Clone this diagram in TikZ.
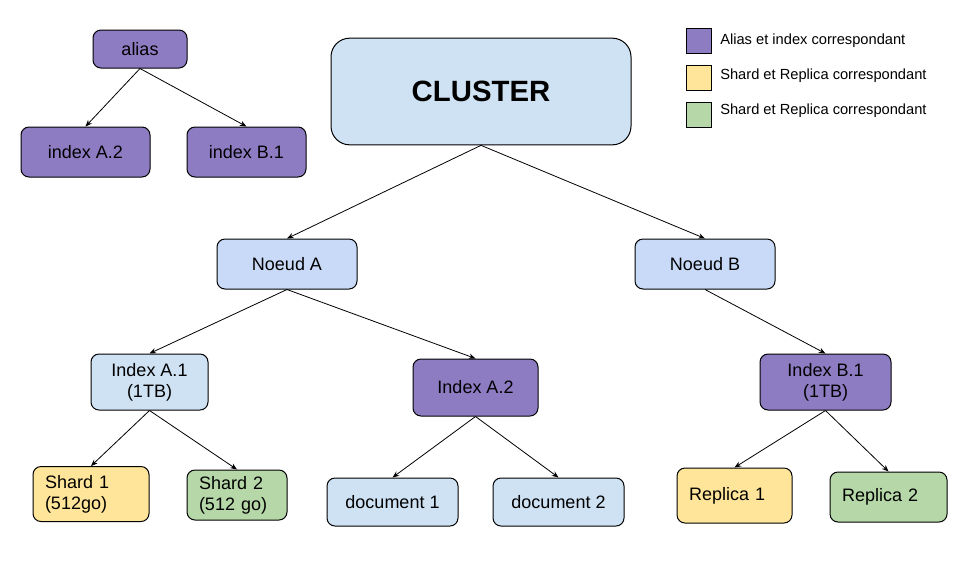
\documentclass[tikz,border=0pt]{standalone}
\usepackage{fontspec}
\setmainfont{Liberation Sans}
\usepackage{tikz}
\usetikzlibrary{arrows.meta, positioning}
\definecolor{aliaspurple}{RGB}{142, 124, 195}
\definecolor{clusterblue}{RGB}{207, 226, 243}
\definecolor{noeudblue}{RGB}{201, 218, 248}
\definecolor{shardyellow}{RGB}{255, 229, 153}
\definecolor{replicagreen}{RGB}{182, 215, 168}

\begin{document}
\begin{tikzpicture}[x=0.75pt, y=-0.75pt,
  box/.style={draw=black, line width=0.75pt, rounded corners=6pt, align=center, inner sep=0pt, font=\fontsize{13.5}{16}\selectfont},
  purplebox/.style={box, fill=aliaspurple},
  bluebox/.style={box, fill=clusterblue},
  yellowbox/.style={box, fill=shardyellow},
  greenbox/.style={box, fill=replicagreen},
  leftbox/.style={align=left, inner xsep=9pt, text width=#1},
  legendsq/.style={draw=black, line width=0.75pt, minimum size=18.75pt, inner sep=0pt},
  legendtxt/.style={anchor=west, inner sep=0pt, font=\fontsize{11}{13}\selectfont},
  link/.style={-{Stealth[length=5pt, width=4pt]}, line width=0.6pt}]
  \useasboundingbox (0,0) rectangle (962,569);

  % Alias
  \node[purplebox, minimum width=70.5pt, minimum height=28.5pt] (alias) at (140, 49) {alias};
  \node[purplebox, minimum width=96.75pt, minimum height=37.5pt] (aliasA2) at (85.5, 152) {index A.2};
  \node[purplebox, minimum width=89.25pt, minimum height=37.5pt] (aliasB1) at (246.5, 152) {index B.1};

  % Cluster
  \node[bluebox, rounded corners=14pt, minimum width=225pt, minimum height=80pt, font=\fontsize{22}{26}\selectfont\bfseries] (cluster) at (481, 91.5) {CLUSTER};

  % Noeuds
  \node[box, fill=noeudblue, minimum width=105pt, minimum height=37.5pt] (noeudA) at (287, 264) {Noeud A};
  \node[box, fill=noeudblue, minimum width=105pt, minimum height=37.5pt] (noeudB) at (705, 264) {Noeud B};

  % Index
  \node[bluebox, minimum width=87.75pt, minimum height=42pt] (indexA1) at (149.5, 382) {Index A.1\\(1TB)};
  \node[purplebox, minimum width=93.75pt, minimum height=42.75pt] (indexA2) at (475.5, 387.5) {Index A.2};
  \node[purplebox, minimum width=98.25pt, minimum height=42pt] (indexB1) at (825.5, 382) {Index B.1\\(1TB)};

  % Shards, documents, replicas
  \node[yellowbox, leftbox=69pt, minimum height=41.25pt] (shard1) at (91, 494) {Shard 1\\(512go)};
  \node[greenbox, leftbox=57pt, minimum height=37.5pt] (shard2) at (237, 495) {Shard 2\\(512 go)};
  \node[bluebox, minimum width=98.25pt, minimum height=36pt] (doc1) at (392.5, 502) {document 1};
  \node[bluebox, minimum width=98.25pt, minimum height=36pt] (doc2) at (558.5, 502) {document 2};
  \node[yellowbox, leftbox=68.25pt, minimum height=41.25pt] (replica1) at (734.5, 495.5) {Replica 1};
  \node[greenbox, leftbox=69.75pt, minimum height=37.5pt] (replica2) at (888.5, 497) {Replica 2};

  % Links
  \draw[link] (alias.south) -- (aliasA2.north);
  \draw[link] (alias.south) -- (aliasB1.north);
  \draw[link] (cluster.south) -- (noeudA.north);
  \draw[link] (cluster.south) -- (noeudB.north);
  \draw[link] (noeudA.south) -- (indexA1.north);
  \draw[link] (noeudA.south) -- (indexA2.north);
  \draw[link] (noeudB.south) -- (indexB1.north);
  \draw[link] (indexA1.south) -- (shard1.north);
  \draw[link] (indexA1.south) -- (shard2.north);
  \draw[link] (indexA2.south) -- (doc1.north);
  \draw[link] (indexA2.south) -- (doc2.north);
  \draw[link] (indexB1.south) -- (replica1.north);
  \draw[link] (indexB1.south) -- (replica2.north);

  % Legend
  \node[legendsq, fill=aliaspurple] (legPurple) at (698.5, 40.5) {};
  \node[legendsq, fill=shardyellow] (legYellow) at (698.5, 77.5) {};
  \node[legendsq, fill=replicagreen] (legGreen) at (698.5, 114.5) {};
  \node[legendtxt] (txtPurple) at (720, 40.5) {Alias et index correspondant};
  \node[legendtxt] (txtYellow) at (720, 76) {Shard et Replica correspondant};
  \node[legendtxt] (txtGreen) at (720, 111) {Shard et Replica correspondant};
\end{tikzpicture}
\end{document}
